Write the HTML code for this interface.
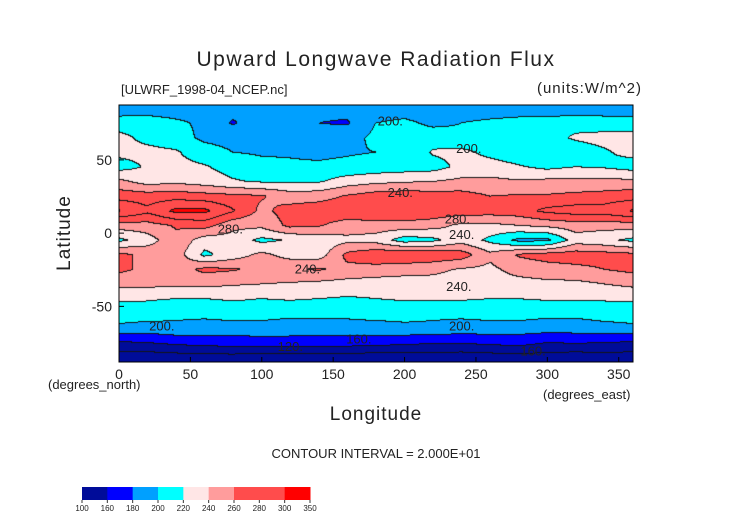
<!DOCTYPE html>
<html><head><meta charset="utf-8">
<style>
body{margin:0;background:#fff;}
#wrap{position:relative;width:752px;height:532px;background:#fff;font-family:"Liberation Sans",sans-serif;color:#222;}
.t{position:absolute;white-space:nowrap;}
canvas{position:absolute;left:0;top:0;}
svg{position:absolute;left:0;top:0;}
</style></head><body>
<div id="wrap">
<canvas id="cv" width="752" height="532"></canvas>
<svg id="sv" width="752" height="532"></svg>
<div class="t" style="left:0;width:752px;text-align:center;top:48px;font-size:21px;letter-spacing:1.5px;">Upward Longwave Radiation Flux</div>
<div class="t" style="left:121px;top:82px;font-size:13px;">[ULWRF_1998-04_NCEP.nc]</div>
<div class="t" style="right:110px;top:80px;font-size:15px;letter-spacing:1px;">(units:W/m^2)</div>
<div class="t" style="left:48px;top:377px;font-size:13px;">(degrees_north)</div>
<div class="t" style="left:543px;top:387px;font-size:13px;">(degrees_east)</div>
<div class="t" style="left:0;width:752px;text-align:center;top:404px;font-size:19px;letter-spacing:1px;">Longitude</div>
<div class="t" style="left:18px;top:222px;width:94px;text-align:center;font-size:19px;letter-spacing:1px;transform:rotate(-90deg);">Latitude</div>
<div class="t" style="left:0;width:752px;text-align:center;top:446px;font-size:13px;">CONTOUR INTERVAL = 2.000E+01</div>
</div>
<script>
const lons=[0,20,40,60,80,100,120,140,160,180,200,220,240,260,280,300,320,340];
const lats=[85,75,65,55,45,35,25,15,5,-5,-15,-25,-35,-45,-55,-65,-75,-85];
const r85=[186,188,186,186,186,186,186,185,186,186,188,186,186,186,188,186,186,186];
const r75=[212,212,205,195,178,192,190,180,178,200,205,195,200,205,208,210,215,212];
const r65=[225,215,210,195,192,190,190,188,192,205,210,212,205,205,210,215,222,225];
const r55=[225,225,222,210,200,198,198,196,198,200,205,222,225,215,208,205,212,218];
const r45=[212,222,225,222,212,205,203,203,205,208,210,212,225,228,222,215,220,218];
const r35=[245,232,235,230,222,218,218,218,230,235,238,240,245,245,242,245,245,245];
const r25=[272,270,272,268,265,262,250,252,262,270,272,270,268,260,262,262,265,268];
const r15=[302,285,305,305,282,255,268,272,275,280,278,275,272,270,272,285,290,290];
const r5=[250,252,262,268,245,245,265,262,250,250,252,248,235,235,240,245,250,248];
const rm5=[215,230,255,230,232,215,222,228,235,232,210,215,232,215,195,195,230,225];
const rm15=[265,255,250,215,230,245,232,230,265,275,278,275,270,245,262,268,270,268];
const rm25=[265,255,250,265,262,255,258,262,255,252,248,245,238,235,248,252,255,260];
const rm35=[245,245,245,245,242,240,238,235,232,230,230,232,230,230,232,235,235,240];
const rm45=[222,222,220,220,222,220,222,220,218,220,222,222,222,220,220,222,222,222];
const rm55=[212,210,205,205,210,208,205,205,205,208,208,205,205,208,210,205,205,210];
const rm65=[195,192,195,192,190,192,190,190,192,192,195,195,192,192,190,190,190,192];
const rm75=[158,160,165,168,170,172,172,170,170,168,165,162,162,165,168,160,162,160];
const rm85=[130,128,130,132,132,130,128,130,130,128,130,130,128,130,132,130,128,130];
const grid=[r85,r75,r65,r55,r45,r35,r25,r15,r5,rm5,rm15,rm25,rm35,rm45,rm55,rm65,rm75,rm85];
const binEdges=[100,160,180,200,220,240,260,300,350];
const binColors=["#000c99","#0000ff","#00a0ff","#00ffff","#ffe6e6","#ff9c9c","#ff4c4c","#ff0000"];
const lineLevels=[120,140,160,180,200,220,240,260,280,300];
const xTicks=[0,50,100,150,200,250,300,350];
const yTicks=[50,0,-50];
const cbLabels=["100","160","180","200","220","240","260","280","300","350"];
const cbColors=["#000c99","#0000ff","#00a0ff","#00ffff","#ffe6e6","#ff9c9c","#ff4c4c","#ff4c4c","#ff0000"];
const cLabels=[["200.",245,58],["200.",190,77],["240.",197,28],["280.",78,3],["280.",237,10],["240.",240,-0.5],["240.",132,-24],["240.",238,-36],["200.",30,-63],["200.",240,-63],["160.",168,-72],["120.",120,-77],["160.",290,-80]];

const X0=119,X1=633,Y0=105,Y1=362,LAT0=87.5,LAT1=-88;
const xS=lon=>X0+(lon/360)*(X1-X0);
const yS=lat=>Y0+(LAT0-lat)/(LAT0-LAT1)*(Y1-Y0);
function val(lon,lat){
  let r=(lats[0]-lat)/10; r=Math.max(0,Math.min(lats.length-1,r));
  let r0=Math.floor(r),r1=Math.min(r0+1,lats.length-1),fr=r-r0;
  let c=((lon%360)+360)%360/20;let c0=Math.floor(c)%18,c1=(c0+1)%18,fc=c-Math.floor(c);
  const a=grid[r0][c0]*(1-fc)+grid[r0][c1]*fc;
  const b=grid[r1][c0]*(1-fc)+grid[r1][c1]*fc;
  return a*(1-fr)+b*fr;
}
function hex(h){return[parseInt(h.substr(1,2),16),parseInt(h.substr(3,2),16),parseInt(h.substr(5,2),16)];}
const cols=binColors.map(hex);
function bin(v){for(let i=binEdges.length-2;i>=0;i--){if(v>=binEdges[i])return i;}return 0;}
function lev(v){let k=0;for(const l of lineLevels){if(v>=l)k++;}return k;}
const cv=document.getElementById('cv');const ctx=cv.getContext('2d');
const W=X1-X0,H=Y1-Y0;const img=ctx.createImageData(W,H);
const vals=[];
for(let j=0;j<H;j++){vals.push([]);for(let i=0;i<W;i++){const lon=(i+0.5)/W*360;const lat=LAT0-(j+0.5)/H*(LAT0-LAT1);vals[j].push(val(lon,lat));}}
for(let j=0;j<H;j++)for(let i=0;i<W;i++){
  const v=vals[j][i];let c=cols[bin(v)];
  const L=lev(v);
  if((i+1<W&&lev(vals[j][i+1])!==L)||(j+1<H&&lev(vals[j+1][i])!==L))c=[20,20,20];
  const p=(j*W+i)*4;img.data[p]=c[0];img.data[p+1]=c[1];img.data[p+2]=c[2];img.data[p+3]=255;}
ctx.putImageData(img,X0,Y0);
const NS="http://www.w3.org/2000/svg";const sv=document.getElementById('sv');
function mk(tag,at){const e=document.createElementNS(NS,tag);for(const k in at)e.setAttribute(k,at[k]);sv.appendChild(e);return e;}
let fr=mk('rect',{x:X0,y:Y0,width:W,height:H,fill:'none',stroke:'#000','stroke-width':1});


xTicks.forEach(t=>{const x=xS(t);
  let l=mk('line',{x1:x,x2:x,y1:Y1,y2:Y1-5,stroke:'#000'});
  
  
  let tx=mk('text',{x:x,y:Y1+17,'text-anchor':'middle','font-size':14,'font-family':'Liberation Sans, sans-serif',fill:'#222'});tx.textContent=t;
  
  });
yTicks.forEach(t=>{const y=yS(t);
  let l=mk('line',{x1:X0,x2:X0+5,y1:y,y2:y,stroke:'#000'});
  
  
  let tx=mk('text',{x:X0-7,y:y+5,'text-anchor':'end','font-size':14,'font-family':'Liberation Sans, sans-serif',fill:'#222'});tx.textContent=t;
  
  });
cLabels.forEach(c=>{let tx=mk('text',{x:xS(c[1]),y:yS(c[2])+5,'text-anchor':'middle','font-size':13,'font-family':'Liberation Sans, sans-serif',fill:'#222'});tx.textContent=c[0];
  
  });
const CBX=82,CBW=228,CBY=487,CBH=13,n=cbColors.length;
cbColors.forEach((c,i)=>{let r=mk('rect',{x:CBX+i*CBW/n,y:CBY,width:CBW/n+0.5,height:CBH,fill:c});
  
  });
cbLabels.forEach((t,i)=>{const x=CBX+i*CBW/n;
  let l=mk('line',{x1:x,x2:x,y1:CBY+CBH,y2:CBY+CBH+3,stroke:'#333'});
  
  
  let tx=mk('text',{x:x,y:CBY+CBH+11,'text-anchor':'middle','font-size':8,'font-family':'Liberation Sans, sans-serif',fill:'#222'});tx.textContent=t;
  
  });
</script>
</body></html>
